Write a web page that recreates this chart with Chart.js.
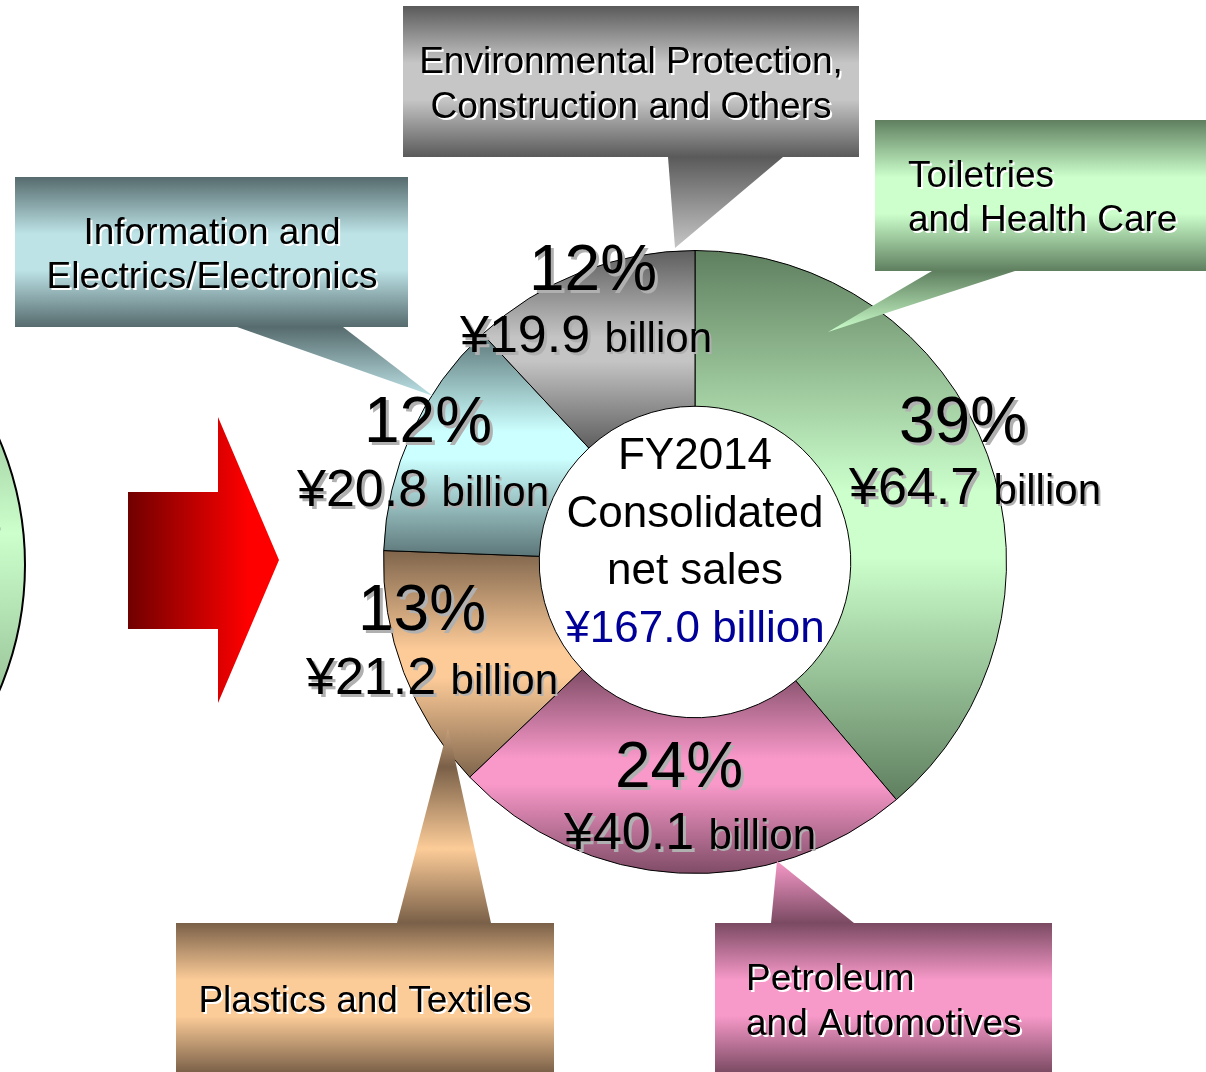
<!DOCTYPE html>
<html>
<head>
<meta charset="utf-8">
<script src="https://cdn.jsdelivr.net/npm/chart.js@4/dist/chart.umd.min.js"></script>
<style>
  html, body { margin: 0; padding: 0; background: #ffffff; }
  #wrap { width: 1206px; height: 1072px; position: relative; }
</style>
</head>
<body>
<div id="wrap"><canvas id="c" width="1206" height="1072"></canvas></div>
<script>
// ---------- DATA ----------
const categories = [
  'Toiletries and Health Care',
  'Petroleum and Automotives',
  'Plastics and Textiles',
  'Information and Electrics/Electronics',
  'Environmental Protection, Construction and Others'
];
const salesBillion = [64.7, 40.1, 21.2, 20.8, 19.9];
const sharePct = [39, 24, 13, 12, 12];
const calloutLines = [
  ['Toiletries', 'and Health Care'],
  ['Petroleum', 'and Automotives'],
  ['Plastics and Textiles'],
  ['Information and', 'Electrics/Electronics'],
  ['Environmental Protection,', 'Construction and Others']
];
const centerLines = ['FY2014', 'Consolidated', 'net sales'];
const totalLabel = '¥167.0 billion';

// ---------- STYLES ----------
const FONT = "'Liberation Sans', Arial, Helvetica, sans-serif";
const segDark  = ['#5f7f5f', '#7f4c66', '#7f654c', '#5c7678', '#5e5e5e'];
const segLight = ['#ccffcc', '#f999ca', '#fdcb98', '#ccffff', '#c4c4c4'];
const boxDark  = ['#5f7f5f', '#7a4a62', '#7a6048', '#566b6d', '#5a5a5a'];
const boxLight = ['#ccffcc', '#f799c9', '#fccc98', '#bde3e7', '#c6c6c6'];

function arcGeom(chart) {
  const a = chart.chartArea;
  const cx = (a.left + a.right) / 2, cy = (a.top + a.bottom) / 2;
  const R = (Math.min(a.right - a.left, a.bottom - a.top) - 1) / 2;
  return { cx, cy, R, r: R * 0.5 };
}

function segGradient(chart, i) {
  const a = chart.chartArea;
  if (!a) return segLight[i];
  const g = arcGeom(chart);
  const vals = chart.data.datasets[0].data;
  const total = vals.reduce((s, v) => s + v, 0);
  let cum = 0;
  for (let k = 0; k < i; k++) cum += vals[k];
  const a0 = -Math.PI / 2 + 2 * Math.PI * cum / total;
  const a1 = -Math.PI / 2 + 2 * Math.PI * (cum + vals[i]) / total;
  const ys = [];
  for (const ang of [a0, a1]) for (const rr of [g.r, g.R]) ys.push(g.cy + rr * Math.sin(ang));
  for (let k = -2; k <= 2; k++) {
    const b = Math.PI / 2 + 2 * Math.PI * k; if (b > a0 && b < a1) ys.push(g.cy + g.R);
    const t = -Math.PI / 2 + 2 * Math.PI * k; if (t > a0 && t < a1) ys.push(g.cy - g.R);
  }
  const y0 = Math.min(...ys), y1 = Math.max(...ys);
  const grad = chart.ctx.createLinearGradient(0, y0, 0, y1);
  grad.addColorStop(0, segDark[i]);
  grad.addColorStop(0.44, segLight[i]);
  grad.addColorStop(0.56, segLight[i]);
  grad.addColorStop(1, segDark[i]);
  return grad;
}

function shadowText(ctx, text, x, y, color, shadow, off) {
  ctx.fillStyle = shadow;
  ctx.fillText(text, x + off, y + off);
  ctx.fillStyle = color;
  ctx.fillText(text, x, y);
}

function drawCallout(ctx, i, box, pointer, ptrStops, textX, baselines, align) {
  const [p1, p2, tip] = pointer;
  const baseY = p1[1];
  const pg = ctx.createLinearGradient(0, baseY, 0, tip[1]);
  ptrStops.forEach(s => pg.addColorStop(s[0], s[1] === 'd' ? boxDark[i] : (s[1] === 'l' ? boxLight[i] : s[1])));
  ctx.beginPath();
  ctx.moveTo(p1[0], p1[1]); ctx.lineTo(tip[0], tip[1]); ctx.lineTo(p2[0], p2[1]); ctx.closePath();
  ctx.fillStyle = pg; ctx.fill();
  const bg = ctx.createLinearGradient(0, box.y, 0, box.y + box.h);
  bg.addColorStop(0, boxDark[i]);
  bg.addColorStop(0.38, boxLight[i]);
  bg.addColorStop(0.62, boxLight[i]);
  bg.addColorStop(1, boxDark[i]);
  ctx.fillStyle = bg;
  ctx.fillRect(box.x, box.y, box.w, box.h);
  ctx.font = '37px ' + FONT;
  ctx.textAlign = align;
  ctx.textBaseline = 'alphabetic';
  calloutLines[i].forEach((ln, k) => shadowText(ctx, ln, textX, baselines[k], '#000000', '#ffffff', 2));
}

function drawValueLabel(ctx, i, cxText, pctBase, valCx, valBase) {
  ctx.textBaseline = 'alphabetic';
  ctx.textAlign = 'center';
  ctx.font = '64px ' + FONT;
  shadowText(ctx, sharePct[i] + '%', cxText, pctBase, '#000000', '#b0b0b0', 3);
  const v = '¥' + salesBillion[i].toFixed(1);
  ctx.font = '52px ' + FONT;
  const w1 = ctx.measureText(v + ' ').width;
  ctx.font = '42px ' + FONT;
  const w2 = ctx.measureText('billion').width;
  const x0 = valCx - (w1 + w2) / 2;
  ctx.textAlign = 'left';
  ctx.font = '52px ' + FONT;
  shadowText(ctx, v, x0, valBase, '#000000', '#b0b0b0', 3);
  ctx.font = '42px ' + FONT;
  shadowText(ctx, 'billion', x0 + w1, valBase, '#000000', '#b0b0b0', 2);
}

const decor = {
  id: 'decor',
  beforeDatasetsDraw(chart) {
    const ctx = chart.ctx;
    ctx.save();
    const lg = ctx.createLinearGradient(0, 245, 0, 885);
    lg.addColorStop(0, '#5f7f5f'); lg.addColorStop(0.45, '#ccffcc'); lg.addColorStop(1, '#5f7f5f');
    ctx.beginPath(); ctx.arc(-295, 565, 320, 0, Math.PI * 2);
    ctx.fillStyle = lg; ctx.fill();
    ctx.lineWidth = 2; ctx.strokeStyle = '#000'; ctx.stroke();
    ctx.font = '44px ' + FONT; ctx.fillStyle = '#8a8a8a'; ctx.textAlign = 'left';
    ctx.fillText('s', -20, 536);
    const ag = ctx.createLinearGradient(128, 0, 279, 0);
    ag.addColorStop(0, '#700000'); ag.addColorStop(0.8, '#ff0000'); ag.addColorStop(1, '#ff0000');
    ctx.beginPath();
    ctx.moveTo(128, 492); ctx.lineTo(218, 492); ctx.lineTo(218, 417); ctx.lineTo(279, 560);
    ctx.lineTo(218, 703); ctx.lineTo(218, 629); ctx.lineTo(128, 629); ctx.closePath();
    ctx.fillStyle = ag; ctx.fill();
    ctx.restore();
  },
  afterDatasetsDraw(chart) {
    const ctx = chart.ctx;
    const g = arcGeom(chart);
    ctx.save();
    drawCallout(ctx, 4, {x: 403, y: 6, w: 456, h: 151}, [[668, 157], [783, 157], [675, 248]],
      [[0, 'd'], [1, 'l']], 631, [73, 118], 'center');
    drawCallout(ctx, 0, {x: 875, y: 120, w: 331, h: 151}, [[932, 271], [1015, 271], [828, 332]],
      [[0, 'd'], [1, 'l']], 908, [187, 231], 'left');
    drawCallout(ctx, 3, {x: 15, y: 177, w: 393, h: 150}, [[237, 327], [343, 327], [433, 396]],
      [[0, 'd'], [1, 'l']], 212, [244, 288], 'center');
    drawCallout(ctx, 2, {x: 176, y: 923, w: 378, h: 150}, [[397, 923], [491, 923], [448, 728]],
      [[0, 'd'], [0.38, 'l'], [0.8, 'd'], [1, '#c9a27d']], 365, [1012], 'center');
    drawCallout(ctx, 1, {x: 715, y: 923, w: 337, h: 150}, [[771, 923], [854, 923], [777, 861]],
      [[0, 'd'], [1, 'l']], 746, [990, 1035], 'left');

    const cx = g.cx, cy = g.cy;
    drawValueLabel(ctx, 0, cx + 268, cy - 120, cx + 280, cy - 58);
    drawValueLabel(ctx, 1, cx - 16, cy + 225, cx - 5, cy + 287);
    drawValueLabel(ctx, 2, cx - 273, cy + 68, cx - 263, cy + 132);
    drawValueLabel(ctx, 3, cx - 267, cy - 120, cx - 272, cy - 56);
    drawValueLabel(ctx, 4, cx - 102, cy - 272, cx - 109, cy - 210);

    ctx.textAlign = 'center';
    ctx.font = '44px ' + FONT;
    ctx.fillStyle = '#000000';
    const bases = [cy - 93, cy - 35, cy + 22];
    centerLines.forEach((t, k) => ctx.fillText(t, cx, bases[k]));
    ctx.fillStyle = '#000099';
    ctx.fillText(totalLabel, cx, cy + 80);
    ctx.restore();
  }
};

new Chart(document.getElementById('c'), {
  type: 'doughnut',
  data: {
    labels: categories,
    datasets: [{
      data: salesBillion,
      backgroundColor: (c) => (c.type === 'data' ? segGradient(c.chart, c.dataIndex) : '#cccccc'),
      borderColor: '#000000',
      borderWidth: 1,
      hoverOffset: 0
    }]
  },
  options: {
    responsive: false,
    animation: false,
    events: [],
    cutout: '50%',
    layout: { padding: { left: 383, right: 199, top: 250, bottom: 198 } },
    plugins: { legend: { display: false }, tooltip: { enabled: false }, title: { display: false } }
  },
  plugins: [decor]
});
</script>
</body>
</html>
